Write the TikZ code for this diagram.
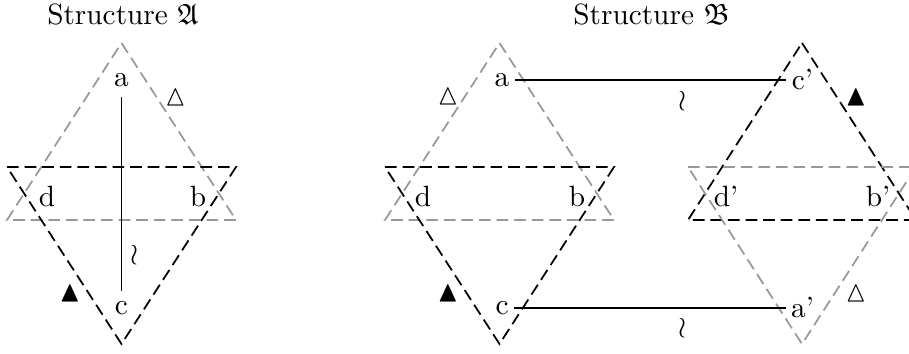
\documentclass[tikz,border=0pt]{standalone}
\usepackage{amssymb}
\begin{document}
\begin{tikzpicture}[x=0.012cm,y=-0.012cm,
  tri/.style={line width=0.6pt, dash pattern=on 4pt off 2pt},
  blk/.style={tri, draw=black},
  gry/.style={tri, draw=black!40},
  lbl/.style={inner sep=1.7pt},
  link/.style={line width=0.6pt},
  sym/.style={inner sep=0pt},
  ttl/.style={anchor=base, inner sep=0pt}]
\useasboundingbox (0,0) rectangle (909,354);

% ---------- Structure A ----------
\node[ttl] (tA) at (123,25) {Structure $\mathfrak{A}$};
\draw[gry] (121.5,43) coordinate (A-g1) -- (236,220) coordinate (A-g2) -- (7,220) coordinate (A-g3) -- cycle;
\draw[blk] (7,167) coordinate (A-k1) -- (236,167) coordinate (A-k2) -- (121.5,344) coordinate (A-k3) -- cycle;
\node[lbl] (A-a) at (121.5,80) {a};
\node[lbl] (A-d) at (47,197) {d};
\node[lbl] (A-b) at (198,197) {b};
\node[lbl] (A-c) at (121.5,308) {c};
\draw[link, shorten <=1.7pt, shorten >=1.7pt] (A-a) -- (A-c);
\node[sym] (A-w) at (135,255) {$\wr$};
\node[sym] (A-t) at (175.5,97) {$\vartriangle$};
\node[sym] (A-T) at (70,293) {$\blacktriangle$};

% ---------- Structure B ----------
\node[ttl] (tB) at (651.5,25) {Structure $\mathfrak{B}$};
\draw[gry] (499.5,43) coordinate (B-g1) -- (614,220) coordinate (B-g2) -- (385,220) coordinate (B-g3) -- cycle;
\draw[blk] (385,167) coordinate (B-k1) -- (614,167) coordinate (B-k2) -- (499.5,344) coordinate (B-k3) -- cycle;
\draw[blk] (802,43) coordinate (C-k1) -- (916,220) coordinate (C-k2) -- (688,220) coordinate (C-k3) -- cycle;
\draw[gry] (688,167) coordinate (C-g1) -- (916,167) coordinate (C-g2) -- (802,344) coordinate (C-g3) -- cycle;

\node[lbl] (B-a) at (502,80) {a};
\node[lbl] (B-d) at (423,197) {d};
\node[lbl] (B-b) at (577,197) {b};
\node[lbl] (B-c) at (502,308) {c};
\node[lbl] (B-c2) at (802.5,80) {c'};
\node[lbl] (B-d2) at (726,197) {d'};
\node[lbl] (B-b2) at (878,197) {b'};
\node[lbl] (B-a2) at (802.5,308) {a'};

\draw[link] (B-a) -- (B-c2);
\draw[link] (B-c) -- (B-a2);
\node[sym] (B-w1) at (683,101) {$\wr$};
\node[sym] (B-w2) at (683,328) {$\wr$};

\node[sym] (B-t) at (448,96) {$\vartriangle$};
\node[sym] (B-T) at (448,293) {$\blacktriangle$};
\node[sym] (C-T) at (856,97) {$\blacktriangle$};
\node[sym] (C-t) at (856,293) {$\vartriangle$};
\end{tikzpicture}
\end{document}
